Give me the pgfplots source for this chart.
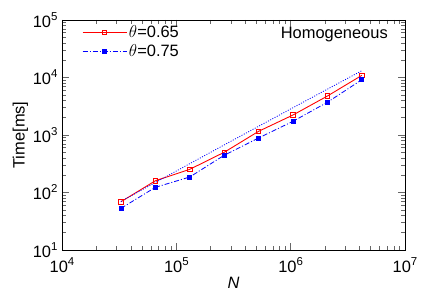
\documentclass[border=0pt]{standalone}
\usepackage{pgfplots}
\pgfplotsset{compat=1.18}
\usepackage{fontspec}
\setmainfont{Liberation Sans}
\newcommand\pw[1]{10\raisebox{0.42em}{\fontsize{11.5}{12}\selectfont #1}}
\begin{document}
\begin{tikzpicture}
\path[use as bounding box] (-62bp,-55bp) rectangle (374bp,250bp);
\begin{axis}[
  at={(0,0)}, anchor=south west,
  scale only axis, width=343bp, height=230bp,
  xmode=log, ymode=log,
  xmin=1e4, xmax=1e7, ymin=10, ymax=1e5,
  xtick={1e4,1e5,1e6,1e7},
  xticklabels={\pw{4},\pw{5},\pw{6},\pw{7}},
  ytick={1e1,1e2,1e3,1e4,1e5},
  yticklabels={\pw{1},\pw{2},\pw{3},\pw{4},\pw{5}},
  tick align=inside,
  major tick length=7bp, minor tick length=4bp,
  every tick/.style={black!60, line width=0.6pt},
  axis line style={black, line width=0.8pt},
  font=\fontsize{16.5}{19}\selectfont,
  xticklabel style={yshift=-4bp},
  yticklabel style={xshift=-1bp},
  xlabel={\textit{N}}, ylabel={Time[ms]},
  xlabel style={yshift=2bp},
  ylabel style={yshift=-2bp},
  legend style={draw=none, fill=none, at={(rel axis cs:0.055,0.99)}, anchor=north west,
    font=\fontsize{16.5}{18}\selectfont, row sep=1.5bp, inner sep=1bp},
  legend cell align=left,
  legend image code/.code={\draw[mark repeat=2,mark phase=2,#1] plot coordinates {(0bp,0bp) (22bp,0bp) (44bp,0bp)};},
]
\addplot[color=red, line width=0.9pt, mark=square, mark size=2.2bp, mark options={solid, line width=0.8pt}] coordinates {
(32768,69) (65536,160) (131072,253) (262144,500) (524288,1159) (1048576,2228) (2097152,4764) (4194304,10900)};
\addlegendentry{$\theta$=0.65}
\addplot[color=blue, line width=0.8pt, dash pattern=on 5bp off 2bp on 1bp off 2bp, mark=square*, mark size=2.0bp, mark options={solid}] coordinates {
(32768,53) (65536,123) (131072,186) (262144,444) (524288,887) (1048576,1730) (2097152,3710) (4194304,9160)};
\addlegendentry{$\theta$=0.75}
\addplot[color=blue, line width=0.8pt, dash pattern=on 1bp off 1.5bp, forget plot] coordinates {
(32768,70) (65536,149.3) (131072,317.3) (262144,672) (524288,1418.7) (1048576,2986.7) (2097152,6272) (4194304,13141)};
\node[anchor=north east] at (rel axis cs:0.96,0.985) {Homogeneous};
\end{axis}
\end{tikzpicture}
\end{document}
